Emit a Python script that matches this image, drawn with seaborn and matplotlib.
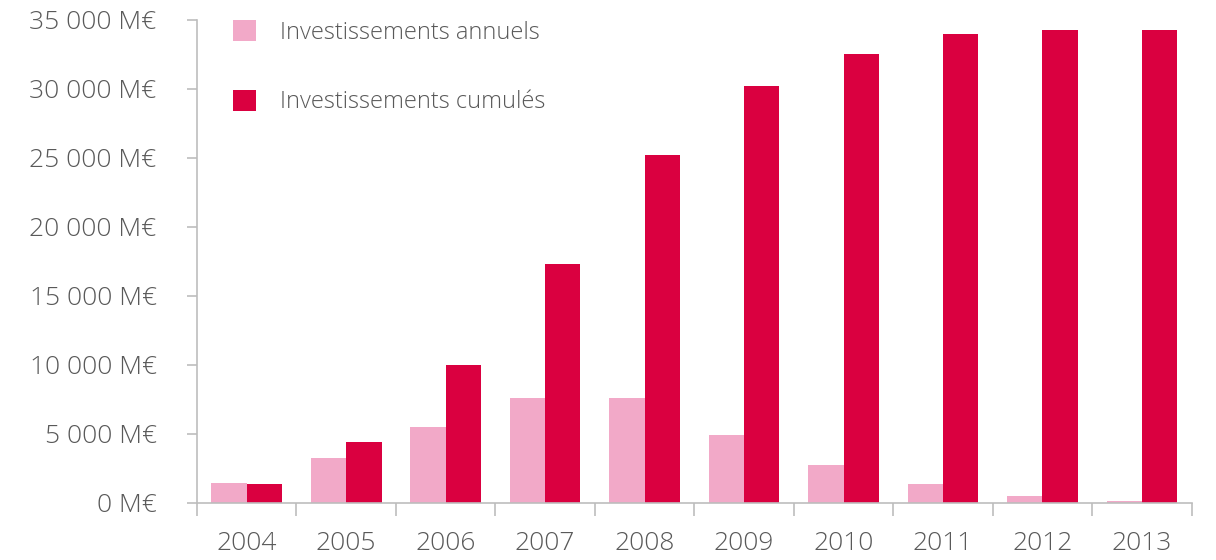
import numpy as np
import pandas as pd
import matplotlib
matplotlib.use("Agg")
import matplotlib.pyplot as plt
from matplotlib.ticker import FuncFormatter, FixedLocator
import seaborn as sns

years = ['2004', '2005', '2006', '2007', '2008', '2009', '2010', '2011', '2012', '2013']
annuels = [1450, 3250, 5500, 7600, 7600, 4900, 2750, 1380, 500, 150]
cumules = [1400, 4400, 10000, 17350, 25250, 30200, 32550, 33950, 34250, 34250]
series_names = ['Investissements annuels', 'Investissements cumulés']
colors = ['#F2A9C8', '#DA0040']
text_grey = '#595959'
axis_grey = '#BDBDBD'

df = pd.DataFrame({
    'year': years * 2,
    'value': annuels + cumules,
    'serie': [series_names[0]] * len(years) + [series_names[1]] * len(years),
})

sns.set_style('white')
plt.rcParams['font.family'] = ['Open Sans', 'DejaVu Sans']
plt.rcParams['font.weight'] = 'light'

fig = plt.figure(figsize=(12.16, 5.6), dpi=100)
ax = fig.add_axes([0.162, 0.1018, 0.818, 0.8625])

sns.barplot(data=df, x='year', y='value', hue='serie', palette=colors,
            width=0.71, gap=0, saturation=1, errorbar=None, linewidth=0, ax=ax)

ax.set_xlim(-0.5, len(years) - 0.5)
ax.set_ylim(0, 35000)
ax.set_yticks(np.arange(0, 35001, 5000))
ax.yaxis.set_major_formatter(FuncFormatter(lambda v, p: f'{int(v):,} M€'.replace(',', ' ')))

# ticks at category boundaries, labels centered
ax.xaxis.set_major_locator(FixedLocator(np.arange(-0.5, len(years), 1)))
ax.xaxis.set_minor_locator(FixedLocator(np.arange(len(years))))
ax.set_xticklabels([])
ax.set_xticklabels(years, minor=True)
ax.tick_params(axis='x', which='major', length=9, width=1.2, color=axis_grey, direction='out')
ax.tick_params(axis='x', which='minor', length=0, pad=20, labelsize=19, labelcolor=text_grey)
ax.tick_params(axis='y', length=7, width=1.2, color=axis_grey, pad=22, labelsize=19, labelcolor=text_grey)
ax.tick_params(bottom=True, left=True)

sns.despine(ax=ax)
for s in ['left', 'bottom']:
    ax.spines[s].set_color(axis_grey)
    ax.spines[s].set_linewidth(1.2)

ax.set_xlabel('')
ax.set_ylabel('')

leg = ax.legend(loc='upper left', bbox_to_anchor=(0.036, 1.0), frameon=False,
                fontsize=17, handlelength=1.0, handleheight=1.0,
                handletextpad=1.0, labelspacing=1.9, borderpad=0, borderaxespad=0)
for t in leg.get_texts():
    t.set_color(text_grey)

fig.savefig('out.png', dpi=100)
